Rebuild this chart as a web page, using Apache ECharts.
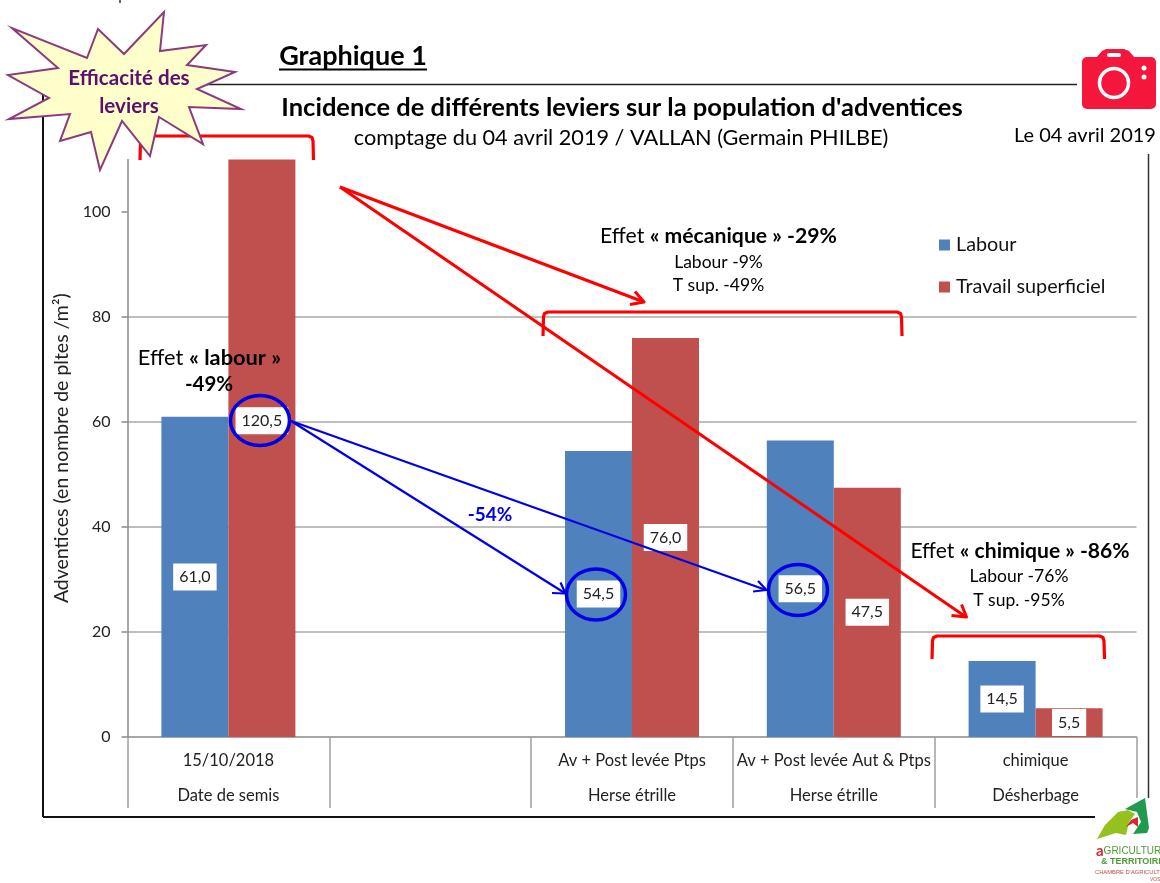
<!DOCTYPE html>
<html><head><meta charset="utf-8">
<style>html,body{margin:0;padding:0;background:#fff}#c{width:1160px;height:883px}</style>
<script src="https://cdn.jsdelivr.net/npm/echarts@6/dist/echarts.min.js"></script>
</head><body><div id="c"></div>
<script>
const dateLine = ['15/10/2018', '', 'Av + Post levée Ptps', 'Av + Post levée Aut & Ptps', 'chimique'];
const groupLine = ['Date de semis', '', 'Herse étrille', 'Herse étrille', 'Désherbage'];
const labour = [61.0, null, 54.5, 56.5, 14.5];
const travail = [120.5, null, 76.0, 47.5, 5.5];
const yTicks = [0, 20, 40, 60, 80, 100];
const yMax = 110;
const FONT = 'Lato';
const gridTop = 159.5, gridBottom = 737;
const pxPerUnit = (gridBottom - gridTop) / yMax;
const fmt = v => v.toFixed(1).replace('.', ',');
const barData = arr => arr.map(v => {
  if (v == null) return null;
  if (v > yMax) return { value: v, label: { offset: [0, -(v - yMax) / 2 * pxPerUnit] } };
  return v;
});
const seriesLabel = {
  show: true, position: 'inside', fontFamily: FONT, fontSize: 16, color: '#222',
  backgroundColor: '#fff', padding: [7, 6, 4, 6],
  formatter: p => fmt(p.value)
};
const RED = '#ff0000', BLUE = '#0000e6';
const poly = (points, color, width, z) => ({
  type: 'polyline', z: z || 100, shape: { points },
  style: { stroke: color, lineWidth: width, fill: null, lineJoin: 'round', lineCap: 'butt' }, silent: true
});
const line = (x1, y1, x2, y2, color, width, z) => ({
  type: 'line', z: z || 90, shape: { x1, y1, x2, y2 }, style: { stroke: color, lineWidth: width }, silent: true
});
const ell = (cx, cy, rx, ry) => ({
  type: 'ellipse', z: 100, shape: { cx, cy, rx, ry }, style: { stroke: BLUE, lineWidth: 3.5, fill: null }, silent: true
});
const txt = (x, y, text, size, opt) => ({
  type: 'text', z: 130, x, y, silent: true,
  style: Object.assign({ text, fontFamily: FONT, fontSize: size, fill: '#000', align: 'center', verticalAlign: 'middle' }, opt || {})
});
const rich2 = (x, y, a, b, size) => txt(x, y, '{a|' + a + '}{b|' + b + '}', size, {
  rich: {
    a: { fontFamily: FONT, fontSize: size, fill: '#000' },
    b: { fontFamily: FONT, fontSize: size, fontWeight: 'bold', fill: '#000' }
  }
});
const bracket = (l, t, r, b) => poly([[l, b], [l + .5, t + 5], [l + 1.5, t + 1.5], [l + 5, t], [r - 5, t], [r - 1.5, t + 1.5], [r - .5, t + 5], [r, b]], RED, 3.2);
const star = [[164,12],[160,51],[206,45],[187,65],[235,72],[197,89],[241,109],[189,107],[203,144],[159,117],[150,156],[122,121],[100,170],[91,132],[60,141],[70,114],[9,119],[49,98],[8,75],[58,68],[12,28],[87,58],[98,29],[124,54]];
const graphics = [
  // frame
  line(120, 0, 120, 3, '#333', 1.5),
  line(43, 95, 43, 817, '#111', 2),
  line(43, 817, 1100, 817, '#111', 2),
  line(200, 84.5, 1077, 84.5, '#222', 1.5),
  line(1148.5, 154, 1148.5, 800, '#333', 1.5),
  // titles
  txt(353, 56.5, 'Graphique 1', 27, { fontWeight: 'bold' }),
  line(279, 69.5, 427, 69.5, '#000', 2),
  txt(622, 107.5, "Incidence de différents leviers sur la population d'adventices", 25.5, { fontWeight: 'bold' }),
  txt(621, 138.5, 'comptage du 04 avril 2019 / VALLAN (Germain PHILBE)', 21.7),
  txt(1085, 135.5, 'Le 04 avril 2019', 20),
  // red brackets and arrows
  bracket(140, 136, 313.5, 160),
  bracket(543, 312, 902, 336),
  bracket(932, 636, 1104.5, 659),
  poly([[340, 187], [644, 302]], RED, 3),
  poly([[630, 304.5], [644, 302], [635, 291.5]], RED, 3),
  poly([[340, 187], [966, 617]], RED, 3),
  poly([[951.5, 615.5], [966.5, 617], [961.5, 604.5]], RED, 3),
  // blue circles and arrows
  ell(260, 420.5, 29.5, 25),
  ell(596, 594.5, 29.5, 25.5),
  ell(798, 590, 29.5, 25.5),
  poly([[291, 421], [565.5, 593.5]], BLUE, 2.2),
  poly([[552, 593], [565.5, 593.5], [560.5, 582.5]], BLUE, 2.2),
  poly([[291, 421], [766, 590]], BLUE, 2.2),
  poly([[753, 591.5], [766.5, 590], [758, 581]], BLUE, 2.2),
  txt(490, 514.5, '-54%', 19, { fontWeight: 'bold', fill: BLUE }),
  // annotations
  rich2(209.5, 357.5, 'Effet ', '« labour »', 21.8),
  txt(209, 384.5, '-49%', 20.5, { fontWeight: 'bold' }),
  rich2(718.5, 236.5, 'Effet ', '« mécanique » -29%', 21.2),
  txt(718.5, 262.5, 'Labour -9%', 17.5),
  txt(718.5, 285.5, 'T sup. -49%', 17.5),
  rich2(1020, 551.5, 'Effet ', '« chimique » -86%', 21.1),
  txt(1019, 576.5, 'Labour -76%', 17.5),
  txt(1019, 600.5, 'T sup. -95%', 17.5),
  // star badge
  { type: 'polygon', z: 110, shape: { points: star }, style: { fill: '#ffffcc', stroke: '#8c3a7c', lineWidth: 2, lineJoin: 'miter' }, silent: true },
  txt(129, 78.5, 'Efficacité des', 20.6, { fontWeight: 'bold', fill: '#5e0f6e' }),
  txt(129, 106.5, 'leviers', 20.6, { fontWeight: 'bold', fill: '#5e0f6e' }),
  // camera icon
  { type: 'rect', z: 100, shape: { x: 1082, y: 57, width: 74, height: 52, r: 5 }, style: { fill: '#f5163c' }, silent: true },
  { type: 'polygon', z: 100, shape: { points: [[1096, 58], [1102, 51], [1106, 49], [1124, 49], [1129, 51], [1135, 58]] }, style: { fill: '#f5163c' }, silent: true },
  { type: 'rect', z: 101, shape: { x: 1107, y: 53, width: 14, height: 4, r: 2 }, style: { fill: '#fff' }, silent: true },
  { type: 'circle', z: 101, shape: { cx: 1114, cy: 83, r: 14.5 }, style: { fill: null, stroke: '#fff', lineWidth: 3.5 }, silent: true },
  { type: 'circle', z: 101, shape: { cx: 1144, cy: 68, r: 2.5 }, style: { fill: '#fff' }, silent: true },
  { type: 'circle', z: 101, shape: { cx: 1144, cy: 77, r: 2.5 }, style: { fill: '#fff' }, silent: true },
  // logo
  { type: 'rect', z: 95, shape: { x: 1095, y: 798, width: 65, height: 85 }, style: { fill: '#fff' }, silent: true },
  { type: 'polygon', z: 100, shape: { points: [[1145, 798], [1125, 809], [1137, 812], [1141, 822], [1133, 834], [1147, 833], [1149, 828]] }, style: { fill: '#1f9a4e' }, silent: true },
  { type: 'polygon', z: 100, shape: { points: [[1097, 839], [1105, 825], [1118, 812], [1128, 810], [1135, 814], [1129, 822], [1126, 835], [1116, 833]] }, style: { fill: '#94c11f' }, silent: true },
  { type: 'polygon', z: 101, shape: { points: [[1126, 827], [1131, 820], [1138, 817], [1138, 827], [1133, 823]] }, style: { fill: '#d8262c' }, silent: true },
  txt(1096, 851, '{a|a}{b|GRICULTURE}', 12, { align: 'left', rich: { a: { fontFamily: FONT, fontSize: 15, fontWeight: 'bold', fill: '#d8262c' }, b: { fontFamily: 'Liberation Sans', fontSize: 10, fill: '#4f9a35' } } }),
  txt(1101, 862, '& TERRITOIRE', 9, { align: 'left', fontFamily: 'Liberation Sans', fontWeight: 'bold', fill: '#4f9a35' }),
  txt(1095, 872, "CHAMBRE D'AGRICULT", 5.8, { align: 'left', fontFamily: 'Liberation Sans', fill: '#c0504d' }),
  txt(1150, 880, 'VOS', 5, { align: 'left', fontFamily: 'Liberation Sans', fill: '#c0504d' })
];
const option = {
  animation: false,
  backgroundColor: '#fff',
  textStyle: { fontFamily: FONT },
  grid: { left: 127.5, right: 23.5, top: gridTop, height: gridBottom - gridTop, containLabel: false },
  legend: {
    left: 934, top: 230, orient: 'vertical', itemWidth: 11, itemHeight: 11, itemGap: 22,
    icon: 'rect', selectedMode: false,
    textStyle: { fontFamily: FONT, fontSize: 19.8, color: '#111', padding: [0, 0, 0, 1] },
    data: ['Labour', 'Travail superficiel']
  },
  xAxis: {
    type: 'category',
    data: dateLine.map((d, i) => d + '\n' + groupLine[i]),
    axisLine: { lineStyle: { color: '#8a8a8a', width: 1.5 } },
    axisTick: { show: true, alignWithLabel: false, length: 71, lineStyle: { color: '#a0a0a0', width: 1.5 } },
    axisLabel: { interval: 0, margin: 6, fontFamily: FONT, fontSize: 16.5, color: '#222', lineHeight: 35 }
  },
  yAxis: {
    type: 'value', min: 0, max: yMax,
    name: 'Adventices (en nombre de pltes /m²)', nameLocation: 'middle', nameGap: 50,
    nameTextStyle: { fontFamily: FONT, fontSize: 19.5, color: '#222' },
    axisLine: { show: true, lineStyle: { color: '#8a8a8a', width: 1.5 } },
    axisTick: { show: true, length: 6, customValues: yTicks, lineStyle: { color: '#8a8a8a', width: 1.5 } },
    axisLabel: { customValues: yTicks, margin: 17, fontFamily: FONT, fontSize: 16, color: '#222' },
    splitLine: { show: true, showMaxLine: false, showMinLine: false, lineStyle: { color: '#a8a8a8', width: 1.5 } }
  },
  series: [
    { name: 'Labour', type: 'bar', barWidth: 67, barGap: 0, data: barData(labour), itemStyle: { color: '#4f81bd' }, label: seriesLabel, clip: true },
    { name: 'Travail superficiel', type: 'bar', barWidth: 67, barGap: 0, data: barData(travail), itemStyle: { color: '#c0504d' }, label: seriesLabel, clip: true }
  ],
  graphic: { elements: graphics }
};
const chart = echarts.init(document.getElementById('c'), null, { renderer: 'canvas' });
chart.setOption(option);
</script></body></html>
